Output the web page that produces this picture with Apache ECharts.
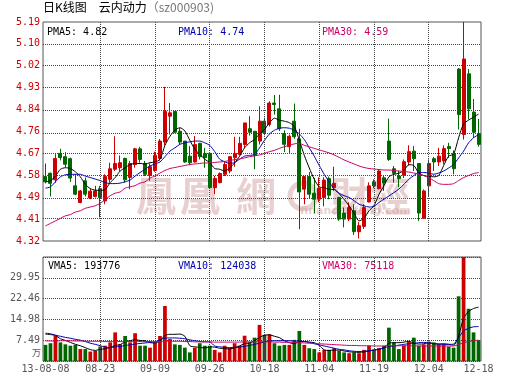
<!DOCTYPE html>
<html><head><meta charset="utf-8">
<script src="https://cdn.jsdelivr.net/npm/echarts@6/dist/echarts.min.js"></script>
<style>html,body{margin:0;padding:0;background:#fff}#c{width:530px;height:391px}</style>
</head><body><div id="c"></div>
<script>
const categories = ['08-08','08-09','08-12','08-13','08-14','08-15','08-16','08-19','08-20','08-21','08-22','08-23','08-26','08-27','08-28','08-29','08-30',
'09-02','09-03','09-04','09-05','09-06','09-09','09-10','09-11','09-12','09-13','09-16','09-17','09-18','09-23','09-24','09-25','09-26','09-27','09-30',
'10-08','10-09','10-10','10-11','10-14','10-15','10-16','10-17','10-18','10-21','10-22','10-23','10-24','10-25','10-28','10-29','10-30','10-31',
'11-01','11-04','11-05','11-06','11-07','11-08','11-11','11-12','11-13','11-14','11-15','11-18','11-19','11-20','11-21','11-22','11-25','11-26','11-27','11-28','11-29',
'12-02','12-03','12-04','12-05','12-06','12-09','12-10','12-11','12-12','12-13','12-16','12-17','12-18'];

const open = [4.576,4.589,4.563,4.668,4.655,4.647,4.539,4.473,4.559,4.491,
 4.497,4.528,4.479,4.565,4.605,4.611,4.648,4.572,4.624,4.686,
 4.628,4.580,4.600,4.648,4.713,4.816,4.835,4.756,4.717,4.657,
 4.634,4.708,4.668,4.668,4.532,4.552,4.585,4.598,4.651,4.664,
 4.703,4.766,4.756,4.717,4.796,4.783,4.868,4.845,4.747,4.695,
 4.796,4.726,4.526,4.576,4.510,4.486,4.493,4.568,4.532,4.493,
 4.431,4.407,4.440,4.357,4.378,4.475,4.555,4.528,4.571,4.717,
 4.607,4.578,4.581,4.634,4.677,4.628,4.410,4.539,4.647,4.634,
 4.638,4.695,4.668,5.003,4.743,4.984,4.832,4.747];
const close = [4.555,4.549,4.648,4.651,4.625,4.570,4.506,4.519,4.506,4.518,
 4.519,4.493,4.576,4.607,4.628,4.631,4.563,4.628,4.686,4.644,
 4.585,4.615,4.660,4.717,4.835,4.829,4.752,4.713,4.634,4.631,
 4.703,4.655,4.651,4.532,4.568,4.588,4.624,4.655,4.668,4.708,
 4.789,4.752,4.660,4.796,4.750,4.868,4.862,4.766,4.704,4.736,
 4.734,4.515,4.576,4.506,4.486,4.530,4.562,4.502,4.549,4.407,
 4.407,4.453,4.357,4.381,4.453,4.539,4.539,4.598,4.550,4.644,
 4.589,4.568,4.635,4.675,4.647,4.431,4.519,4.628,4.634,4.657,
 4.687,4.687,4.607,4.822,5.043,4.845,4.752,4.704];
const low = [4.549,4.497,4.552,4.640,4.612,4.555,4.502,4.470,4.497,4.486,
 4.493,4.414,4.466,4.552,4.598,4.598,4.552,4.526,4.611,4.631,
 4.578,4.559,4.595,4.640,4.700,4.743,4.750,4.703,4.631,4.621,
 4.631,4.644,4.611,4.526,4.506,4.549,4.578,4.589,4.615,4.660,
 4.690,4.739,4.605,4.703,4.740,4.775,4.822,4.757,4.673,4.670,
 4.726,4.367,4.466,4.490,4.430,4.474,4.458,4.486,4.519,4.400,
 4.374,4.399,4.344,4.330,4.368,4.474,4.530,4.525,4.519,4.638,
 4.552,4.534,4.570,4.620,4.598,4.400,4.410,4.498,4.598,4.618,
 4.625,4.650,4.585,4.763,4.723,4.803,4.730,4.695];
const high = [4.628,4.592,4.665,4.686,4.673,4.651,4.585,4.523,4.572,4.528,
 4.539,4.539,4.585,4.631,4.736,4.660,4.651,4.638,4.690,4.694,
 4.638,4.628,4.675,4.725,4.932,4.868,4.835,4.769,4.717,4.697,
 4.737,4.710,4.690,4.671,4.578,4.592,4.638,4.657,4.734,4.734,
 4.789,4.816,4.756,4.855,4.810,4.875,4.900,4.901,4.760,4.743,
 4.866,4.766,4.576,4.594,4.571,4.573,4.573,4.576,4.615,4.493,
 4.453,4.474,4.466,4.395,4.466,4.553,4.565,4.605,4.581,4.806,
 4.618,4.598,4.644,4.700,4.697,4.628,4.525,4.644,4.654,4.690,
 4.700,4.710,4.680,5.007,5.190,5.003,4.884,4.805];

const ma5 = [4.555,4.560,4.578,4.605,4.611,4.608,4.595,4.575,4.545,4.528,
 4.522,4.521,4.525,4.552,4.572,4.598,4.611,4.624,4.628,4.628,
 4.626,4.631,4.634,4.644,4.700,4.736,4.760,4.770,4.757,4.720,
 4.685,4.664,4.645,4.631,4.608,4.605,4.598,4.610,4.630,4.657,
 4.690,4.710,4.723,4.745,4.763,4.790,4.808,4.800,4.796,4.790,
 4.775,4.720,4.660,4.610,4.565,4.535,4.532,4.525,4.525,4.508,
 4.485,4.460,4.430,4.400,4.410,4.440,4.460,4.505,4.540,4.575,
 4.585,4.589,4.600,4.623,4.620,4.590,4.580,4.577,4.575,4.580,
 4.620,4.657,4.665,4.730,4.785,4.800,4.812,4.824];
const ma10 = [4.530,4.535,4.555,4.575,4.583,4.585,4.585,4.585,4.578,4.572,
 4.566,4.560,4.552,4.548,4.548,4.550,4.555,4.562,4.578,4.592,
 4.605,4.618,4.626,4.634,4.655,4.677,4.690,4.704,4.710,4.714,
 4.717,4.717,4.710,4.700,4.675,4.645,4.635,4.628,4.632,4.645,
 4.657,4.660,4.664,4.690,4.720,4.745,4.760,4.768,4.770,4.768,
 4.760,4.745,4.723,4.690,4.657,4.620,4.585,4.555,4.526,4.510,
 4.500,4.493,4.480,4.466,4.460,4.455,4.458,4.473,4.486,4.499,
 4.512,4.526,4.545,4.565,4.580,4.592,4.592,4.590,4.585,4.590,
 4.598,4.610,4.624,4.650,4.677,4.710,4.730,4.743];
const ma30 = [4.380,4.390,4.400,4.410,4.420,4.425,4.435,4.440,4.450,4.455,
 4.460,4.470,4.485,4.500,4.510,4.515,4.530,4.535,4.540,4.550,
 4.555,4.570,4.578,4.590,4.600,4.608,4.612,4.616,4.620,4.624,
 4.626,4.628,4.630,4.630,4.632,4.634,4.636,4.640,4.643,4.646,
 4.650,4.655,4.658,4.662,4.668,4.675,4.680,4.688,4.695,4.700,
 4.706,4.708,4.700,4.694,4.688,4.682,4.676,4.670,4.662,4.652,
 4.642,4.634,4.626,4.618,4.612,4.608,4.606,4.604,4.602,4.602,
 4.600,4.598,4.596,4.594,4.590,4.586,4.580,4.572,4.560,4.548,
 4.545,4.545,4.548,4.560,4.572,4.580,4.588,4.592];

const volume = [5.8,6.4,9.1,6.7,6.0,5.5,5.8,4.3,4.3,3.4,
 3.6,5.2,5.5,6.7,10.3,6.0,9.0,6.7,10.0,5.5,
 5.5,4.8,6.7,9.0,19.8,7.9,6.0,5.8,4.8,3.1,
 4.8,6.4,5.5,5.5,4.0,3.1,5.5,4.8,6.4,5.5,
 9.1,6.7,8.4,13.0,9.4,9.6,6.4,5.5,5.8,5.8,
 7.6,10.8,5.8,4.6,4.3,3.1,4.0,4.0,4.6,3.6,
 3.1,2.8,3.1,2.8,4.0,5.5,4.0,4.6,5.5,12.0,
 6.7,4.3,5.5,7.0,8.4,5.5,6.0,7.0,6.7,6.0,
 6.0,5.2,4.8,23.3,38.5,18.8,10.3,7.5];
const vma5 = [9.7,9.5,9.2,8.0,7.4,6.7,6.0,5.5,4.8,4.1,
 3.8,4.2,4.4,4.9,5.6,5.9,6.9,7.3,7.7,7.4,
 7.3,6.6,6.5,7.2,9.2,9.6,9.6,9.7,8.9,5.5,
 5.1,4.9,4.7,5.1,5.0,4.6,4.5,4.3,4.8,5.4,
 6.3,6.5,7.3,8.5,9.3,9.4,8.9,8.4,7.3,6.6,
 6.2,7.0,7.0,6.8,6.6,5.6,4.0,3.8,3.9,3.9,
 3.6,3.3,3.2,3.1,3.3,3.6,3.9,4.2,4.8,6.4,
 6.6,6.6,6.8,7.1,6.4,6.1,6.2,6.6,6.2,6.1,
 6.2,6.0,5.7,9.0,15.4,17.8,18.9,19.38];
const vma10 = [10.0,9.8,9.3,8.9,8.5,8.2,7.8,7.5,7.0,6.4,
 6.0,5.5,5.0,4.8,5.1,5.2,5.6,5.8,6.1,6.3,
 6.5,6.7,6.9,7.6,8.2,8.3,8.3,8.2,8.0,7.6,
 7.3,7.0,6.9,6.9,5.4,5.1,4.9,4.8,4.9,5.0,
 5.3,5.6,6.0,6.4,6.9,7.2,7.3,7.3,7.3,7.3,
 7.2,7.2,7.0,6.7,6.2,5.8,5.4,5.0,4.6,4.2,
 4.0,3.7,3.5,3.4,3.5,3.7,4.0,4.3,4.7,5.2,
 5.4,5.7,6.0,6.2,6.4,6.6,6.7,6.5,6.3,6.1,
 6.0,6.0,6.1,8.4,10.8,11.8,12.3,12.40];
const vma30 = [7.2,7.2,7.2,7.3,7.3,7.3,7.2,7.2,7.1,7.1,
 7.1,7.1,7.0,7.0,7.0,7.0,7.0,7.0,7.0,7.0,
 7.0,7.0,7.0,7.0,7.1,7.1,7.1,7.1,7.0,7.0,
 6.9,6.9,6.9,6.9,6.8,6.8,6.8,6.8,6.8,6.8,
 6.9,6.9,6.9,6.9,6.9,6.9,6.8,6.8,6.7,6.7,
 6.7,6.6,6.5,6.4,6.3,6.2,6.1,6.0,5.9,5.8,
 5.7,5.6,5.6,5.5,5.5,5.5,5.4,5.4,5.4,5.5,
 5.5,5.5,5.5,5.5,5.5,5.4,5.4,5.4,5.4,5.4,
 5.4,5.4,5.4,5.9,6.6,7.0,7.3,7.51];

const priceTicks = [4.32,4.407,4.494,4.581,4.668,4.755,4.842,4.929,5.016,5.103,5.19];
const priceTickLabels = ['4.32','4.41','4.49','4.58','4.67','4.76','4.84','4.93','5.02','5.10','5.19'];
const volTicks = [7.488,14.976,22.464,29.952];
const volTickLabels = ['7.49','14.98','22.46','29.95'];
const xTickDates = ['08-08','08-23','09-09','09-26','10-18','11-04','11-19','12-04','12-18'];
const xTickLabels = ['13-08-08','08-23','09-09','09-26','10-18','11-04','11-19','12-04','12-18'];
const gridDates = ['08-23','09-09','09-26','10-18','11-04','11-19','12-04'];
const priceLegend = ['PMA5: 4.82','PMA10: 4.74','PMA30: 4.59'];
const volLegend = ['VMA5: 193776','VMA10: 124038','VMA30: 75118'];
const titleMain = '日K线图　云内动力';
const titleCode = '（sz000903)';

const RED = '#cc0000', GREEN = '#006600', BLUE = '#0000b0', MAG = '#cc0066';
const MONO = '"DejaVu Sans Mono", monospace';
const WM = 'rgba(205,150,150,0.45)';
const dot = {type:'dotted', color:'#444', width:1};

const chart = echarts.init(document.getElementById('c'), null, {renderer:'canvas'});
const mk = (extra) => ({
  silent:true, symbol:['none','none'], label:{show:false}, animation:false,
  lineStyle:dot, emphasis:{disabled:true}, data: extra
});
const lineS = (name, data, color, xi, yi) => ({
  type:'line', name, data, xAxisIndex:xi, yAxisIndex:yi, showSymbol:false, symbol:'none',
  smooth:0.25, lineStyle:{color, width:1}, itemStyle:{color}, silent:true, z:3
});
const wmText = (t, x) => ({type:'text', x, y:196, z:0, silent:true,
  style:{text:t, fill:WM, fontSize:40, fontWeight:'bold', fontFamily:'"Noto Sans CJK TC"', verticalAlign:'middle'}});

chart.setOption({
  animation:false,
  backgroundColor:'#fff',
  grid:[
    {left:43, top:22, width:438, height:219, show:true, borderColor:'#555', borderWidth:1, outerBoundsMode:'none'},
    {left:43, top:257, width:438, height:104, show:true, borderColor:'#555', borderWidth:1, outerBoundsMode:'none'}
  ],
  xAxis:[
    {type:'category', gridIndex:0, data:categories, boundaryGap:true,
     axisLine:{show:false}, axisTick:{show:false}, axisLabel:{show:false}, splitLine:{show:false}},
    {type:'category', gridIndex:1, data:categories, boundaryGap:true,
     axisLine:{show:false}, axisTick:{show:false}, splitLine:{show:false},
     axisLabel:{show:true, margin:3, color:'#555', fontFamily:MONO, fontSize:10,
       interval:(i, v) => xTickDates.indexOf(v) >= 0,
       formatter:(v) => { const k = xTickDates.indexOf(v); return k >= 0 ? xTickLabels[k] : ''; }}}
  ],
  yAxis:[
    {type:'value', gridIndex:0, min:4.32, max:5.19, scale:true,
     axisLine:{show:false}, axisTick:{show:false}, splitLine:{show:false},
     axisLabel:{show:true, margin:3, color:RED, fontFamily:MONO, fontSize:10,
       customValues:priceTicks,
       formatter:(v) => { let k = priceTicks.findIndex(t => Math.abs(t - v) < 1e-6); return k >= 0 ? priceTickLabels[k] : ''; }}},
    {type:'value', gridIndex:1, min:0, max:37.44, interval:7.488,
     axisLine:{show:false}, axisTick:{show:false},
     splitLine:{show:true, lineStyle:dot},
     axisLabel:{show:true, margin:3, color:'#555', fontFamily:MONO, fontSize:10,
       formatter:(v) => { let k = volTicks.findIndex(t => Math.abs(t - v) < 1e-6); return k >= 0 ? volTickLabels[k] : ''; }}}
  ],
  graphic:[
    {type:'text', x:43, y:7, z:10, style:{text:'{a|'+titleMain+'}{b|'+titleCode+'}', verticalAlign:'middle',
      rich:{a:{fill:'#000', fontSize:12, fontFamily:'"Noto Sans CJK SC"'}, b:{fill:'#777', fontSize:12, fontFamily:'"Noto Sans CJK SC"'}}}},
    wmText('鳳', 136), wmText('凰', 180), wmText('網', 236),
    {type:'circle', z:0, silent:true, shape:{cx:303, cy:196, r:13}, style:{fill:'none', stroke:WM, lineWidth:5}},
    wmText('財經', 330),
    {type:'text', x:300, y:211, z:0, silent:true, style:{text:'finance.ifeng.com', fill:WM, fontSize:11, fontWeight:'bold', fontFamily:'"DejaVu Sans"', verticalAlign:'middle'}},
    {type:'text', x:47, y:32, z:10, style:{text:priceLegend[0], fill:'#000', font:'10px '+MONO, verticalAlign:'middle'}},
    {type:'text', x:178, y:32, z:10, style:{text:priceLegend[1], fill:BLUE, font:'10px '+MONO, verticalAlign:'middle'}},
    {type:'text', x:322, y:32, z:10, style:{text:priceLegend[2], fill:MAG, font:'10px '+MONO, verticalAlign:'middle'}},
    {type:'text', x:48, y:266, z:10, style:{text:volLegend[0], fill:'#000', font:'10px '+MONO, verticalAlign:'middle'}},
    {type:'text', x:178, y:266, z:10, style:{text:volLegend[1], fill:BLUE, font:'10px '+MONO, verticalAlign:'middle'}},
    {type:'text', x:322, y:266, z:10, style:{text:volLegend[2], fill:MAG, font:'10px '+MONO, verticalAlign:'middle'}},
    {type:'text', x:41, y:353, z:10, style:{text:'万', fill:'#555', fontSize:9, fontFamily:'"Noto Sans CJK SC"', align:'right', verticalAlign:'middle'}}
  ],
  series:[
    {type:'candlestick', xAxisIndex:0, yAxisIndex:0, barWidth:'70%', z:2,
     data: categories.map((c, i) => [open[i], close[i], low[i], high[i]]),
     itemStyle:{color:RED, color0:GREEN, borderColor:RED, borderColor0:GREEN, borderWidth:1},
     markLine: mk(priceTicks.slice(1, -1).map(v => ({yAxis:v})).concat(gridDates.map(d => ({xAxis:d}))))},
    lineS('MA5', ma5, '#000', 0, 0),
    lineS('MA10', ma10, BLUE, 0, 0),
    lineS('MA30', ma30, MAG, 0, 0),
    {type:'bar', xAxisIndex:1, yAxisIndex:1, barWidth:'75%', z:2,
     data: volume.map((v, i) => ({value:v, itemStyle:{color: close[i] >= open[i] ? RED : GREEN}})),
     markLine: mk(gridDates.map(d => ({xAxis:d})))},
    lineS('VMA5', vma5, '#000', 1, 1),
    lineS('VMA10', vma10, BLUE, 1, 1),
    lineS('VMA30', vma30, MAG, 1, 1)
  ]
});
</script>
</body></html>
